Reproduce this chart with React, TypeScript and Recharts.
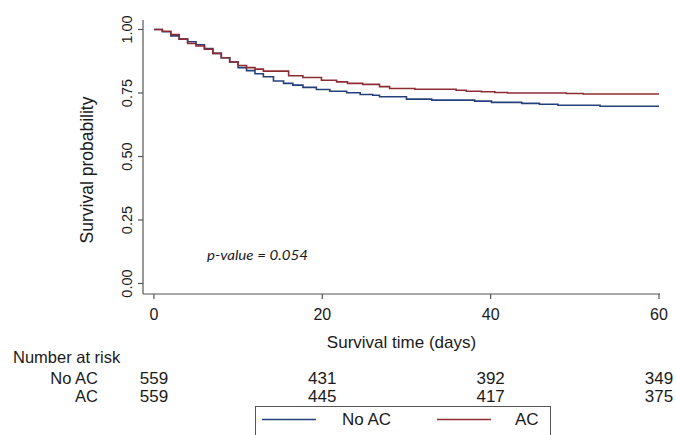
import React from 'react';
import { LineChart, Line, XAxis, YAxis } from 'recharts';

// Kaplan-Meier step points (time in days, survival probability)
const noAcTimes = [0, 1, 2, 3, 4, 5, 6, 7, 8, 9, 10, 11, 12, 13, 14.2, 15.4, 16.5, 17.7, 19.3, 20.9, 22.9, 24.5, 26, 26.8, 30, 33, 38.1, 40.1, 43.7, 45.8, 48, 53, 60];
const noAcSurv = [1.0, 0.991, 0.975, 0.962, 0.952, 0.94, 0.925, 0.906, 0.889, 0.872, 0.85, 0.838, 0.826, 0.814, 0.797, 0.788, 0.781, 0.772, 0.764, 0.757, 0.751, 0.744, 0.741, 0.735, 0.726, 0.722, 0.718, 0.713, 0.709, 0.706, 0.702, 0.698, 0.698];

const acTimes = [0, 1, 2, 3, 4, 5, 6, 7, 8, 9, 10, 11, 12, 13, 16, 17.7, 19.9, 21.7, 23, 24.8, 26.8, 28, 31, 35.9, 37.1, 38.9, 40.5, 42, 49, 51, 60];
const acSurv = [1.0, 0.993, 0.98, 0.962, 0.945, 0.935, 0.922, 0.906, 0.889, 0.872, 0.858, 0.85, 0.844, 0.836, 0.818, 0.811, 0.8, 0.794, 0.788, 0.784, 0.775, 0.768, 0.765, 0.761, 0.757, 0.755, 0.752, 0.75, 0.748, 0.746, 0.746];

const xTicks = [0, 20, 40, 60];
const yTicks = [0, 0.25, 0.5, 0.75, 1];
const riskGroups = ['No AC', 'AC'];
const riskNoAC = [559, 431, 392, 349];
const riskAC = [559, 445, 417, 375];
const pValueText = 'p-value = 0.054';

const noAcData = noAcTimes.map((t, i) => ({ t, s: noAcSurv[i] }));
const acData = acTimes.map((t, i) => ({ t, s: acSurv[i] }));

const FONT = '"Liberation Sans", Arial, Helvetica, sans-serif';
const TEXT = '#1a1a1a';
const AXIS = '#555555';
const BLUE = '#24407a';
const RED = '#8e2c33';

const XTick = (props: any) => {
  const { x, payload } = props;
  const i = xTicks.indexOf(payload.value);
  return (
    <g fontFamily={FONT} fill={TEXT}>
      <text x={x} y={320} textAnchor="middle" fontSize={16} fill={TEXT}>{payload.value}</text>
      <text x={x} y={384} textAnchor="middle" fontSize={17} fill={TEXT}>{riskNoAC[i]}</text>
      <text x={x} y={402} textAnchor="middle" fontSize={17} fill={TEXT}>{riskAC[i]}</text>
    </g>
  );
};

const YTick = (props: any) => {
  const { x, y, payload } = props;
  return (
    <text
      x={x}
      y={y}
      transform={`rotate(-90, ${x}, ${y})`}
      textAnchor="middle"
      fontSize={14.5}
      fontFamily={FONT}
      fill={TEXT}
    >
      {Number(payload.value).toFixed(2)}
    </text>
  );
};

const YTitle = () => (
  <text
    x={93}
    y={170}
    transform="rotate(-90, 93, 170)"
    textAnchor="middle"
    fontSize={17.5}
    fontFamily={FONT}
    fill={TEXT}
  >
    Survival probability
  </text>
);

const Extras = () => (
  <g fontFamily={FONT} fill={TEXT}>
    <text x={401.5} y={348} textAnchor="middle" fontSize={17} fill={TEXT}>Survival time (days)</text>
    <text x={13} y={363} fontSize={16.5} fill={TEXT}>Number at risk</text>
    <text x={98} y={384} textAnchor="end" fontSize={16.5} fill={TEXT}>{riskGroups[0]}</text>
    <text x={98} y={402} textAnchor="end" fontSize={16.5} fill={TEXT}>{riskGroups[1]}</text>
    <text
      x={207}
      y={260}
      fontSize={14}
      fontStyle="italic"
      fontFamily='Lato, "Open Sans", sans-serif'
      textLength={101}
      lengthAdjust="spacingAndGlyphs"
      fill={TEXT}
    >
      {pValueText}
    </text>
    <rect x={255.5} y={406.5} width={295} height={40} fill="#ffffff" stroke={AXIS} strokeWidth={1} />
    <line x1={262} x2={316} y1={419.5} y2={419.5} stroke={BLUE} strokeWidth={1.6} />
    <text x={342} y={425} fontSize={17} fill={TEXT}>{riskGroups[0]}</text>
    <line x1={437} x2={491} y1={419.5} y2={419.5} stroke={RED} strokeWidth={1.6} />
    <text x={515} y={425} fontSize={17} fill={TEXT}>{riskGroups[1]}</text>
  </g>
);

export default function App() {
  return (
    <div style={{ position: 'absolute', left: 0, top: 0, width: 676, height: 435, background: '#ffffff' }}>
      <LineChart width={676} height={435} margin={{ top: 20, right: 16, left: 0, bottom: 0 }}>
        <XAxis
          type="number"
          dataKey="t"
          domain={[-1.3, 60.12]}
          ticks={xTicks}
          interval={0}
          allowDataOverflow
          height={141}
          tickSize={5}
          axisLine={{ stroke: AXIS, strokeWidth: 1.2 }}
          tickLine={{ stroke: AXIS, strokeWidth: 1.2 }}
          tick={<XTick />}
          label={<Extras />}
        />
        <YAxis
          type="number"
          dataKey="s"
          domain={[-0.0413, 1.0374]}
          ticks={yTicks}
          interval={0}
          allowDataOverflow
          width={143}
          tickSize={5}
          tickMargin={6}
          axisLine={{ stroke: AXIS, strokeWidth: 1.2 }}
          tickLine={{ stroke: AXIS, strokeWidth: 1.2 }}
          tick={<YTick />}
          label={<YTitle />}
        />
        <Line
          data={noAcData}
          dataKey="s"
          type="stepAfter"
          stroke={BLUE}
          strokeWidth={1.6}
          dot={false}
          isAnimationActive={false}
          name="No AC"
        />
        <Line
          data={acData}
          dataKey="s"
          type="stepAfter"
          stroke={RED}
          strokeWidth={1.6}
          dot={false}
          isAnimationActive={false}
          name="AC"
        />
      </LineChart>
    </div>
  );
}
